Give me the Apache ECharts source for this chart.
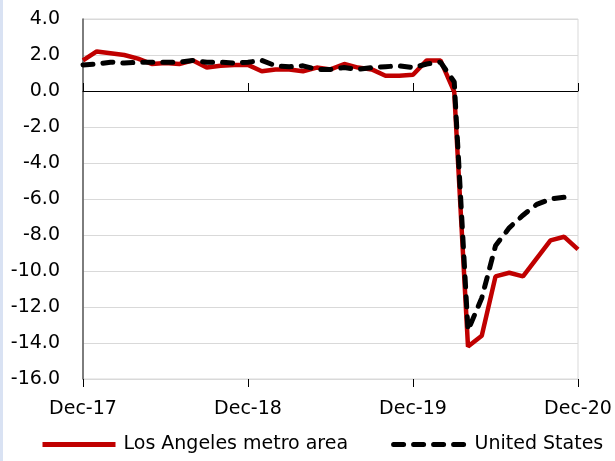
<!DOCTYPE html>
<html><head><meta charset="utf-8">
<script src="https://cdn.jsdelivr.net/npm/echarts@6/dist/echarts.min.js"></script>
<style>html,body{margin:0;padding:0;background:#fff;}#c{width:615px;height:461px;}</style>
</head><body><div id="c"></div>
<script>
const categories = ["Dec-17","Jan-18","Feb-18","Mar-18","Apr-18","May-18","Jun-18","Jul-18","Aug-18","Sep-18","Oct-18","Nov-18",
"Dec-18","Jan-19","Feb-19","Mar-19","Apr-19","May-19","Jun-19","Jul-19","Aug-19","Sep-19","Oct-19","Nov-19",
"Dec-19","Jan-20","Feb-20","Mar-20","Apr-20","May-20","Jun-20","Jul-20","Aug-20","Sep-20","Oct-20","Nov-20","Dec-20"];
const losAngeles = [1.7,2.2,2.1,2.0,1.8,1.5,1.55,1.5,1.7,1.3,1.4,1.45,
1.45,1.1,1.2,1.2,1.1,1.3,1.2,1.5,1.3,1.2,0.85,0.85,
0.9,1.7,1.7,-0.05,-14.2,-13.6,-10.3,-10.1,-10.3,-9.3,-8.3,-8.1,-8.8];
const unitedStates = [1.45,1.5,1.6,1.55,1.6,1.6,1.6,1.6,1.7,1.6,1.6,1.55,
1.6,1.7,1.4,1.35,1.4,1.2,1.2,1.3,1.2,1.3,1.35,1.4,
1.3,1.5,1.6,0.5,-13.3,-11.5,-8.6,-7.6,-6.9,-6.3,-6.0,-5.9,null];
const seriesNames = ["Los Angeles metro area","United States"];
const yTicks = {min:-16, max:4, interval:2};

const chart = echarts.init(document.getElementById('c'));
const font = 'DejaVu Sans';
const baseX = {type:'category', data:categories, boundaryGap:false};
chart.setOption({
  animation:false,
  textStyle:{fontFamily:font},
  graphic:[{type:'rect', shape:{x:0,y:0,width:3,height:461}, style:{fill:'#d9e2f3'}}],
  grid:{left:83, right:37, top:19, bottom:82, show:true, borderColor:'#d9d9d9', borderWidth:1},
  legend:{bottom:7, left:40, padding:0, itemWidth:73, itemHeight:12, itemGap:43,
    itemStyle:{opacity:0}, lineStyle:{width:5},
    textStyle:{fontFamily:font, fontSize:19, color:'#000', padding:[0,0,0,3]},
    data:seriesNames},
  xAxis:[
    Object.assign({}, baseX, {position:'bottom', axisLine:{show:false, onZero:false}, axisTick:{show:false},
      axisLabel:{interval:11, fontSize:19, color:'#000', margin:21, fontFamily:font}, splitLine:{show:false}}),
    Object.assign({}, baseX, {position:'bottom', axisLine:{show:true, onZero:true, lineStyle:{color:'#000', width:1}},
      axisTick:{show:true, interval:11, inside:true, length:8, lineStyle:{color:'#000', width:1}}, axisLabel:{show:false}, splitLine:{show:false}}),
    Object.assign({}, baseX, {position:'bottom', axisLine:{show:false, onZero:true},
      axisTick:{show:true, interval:11, inside:false, length:8, lineStyle:{color:'#000', width:1}}, axisLabel:{show:false}, splitLine:{show:false}})
  ],
  yAxis:{type:'value', min:yTicks.min, max:yTicks.max, interval:yTicks.interval,
    axisLine:{show:true, lineStyle:{color:'#595959', width:1.5}}, axisTick:{show:false},
    axisLabel:{fontSize:19, color:'#000', margin:23, fontFamily:font, formatter:v=>v.toFixed(1)},
    splitLine:{show:true, lineStyle:{color:'#d9d9d9', width:1}}},
  series:[
    {name:seriesNames[0], type:'line', data:losAngeles, symbol:'none', xAxisIndex:0,
      lineStyle:{color:'#c00000', width:4.5}, itemStyle:{color:'#c00000'}, z:2},
    {name:seriesNames[1], type:'line', data:unitedStates, symbol:'none', xAxisIndex:0,
      lineStyle:{color:'#000', width:5, type:[10,10], cap:'round'}, itemStyle:{color:'#000'}, z:3}
  ]
});
</script></body></html>
